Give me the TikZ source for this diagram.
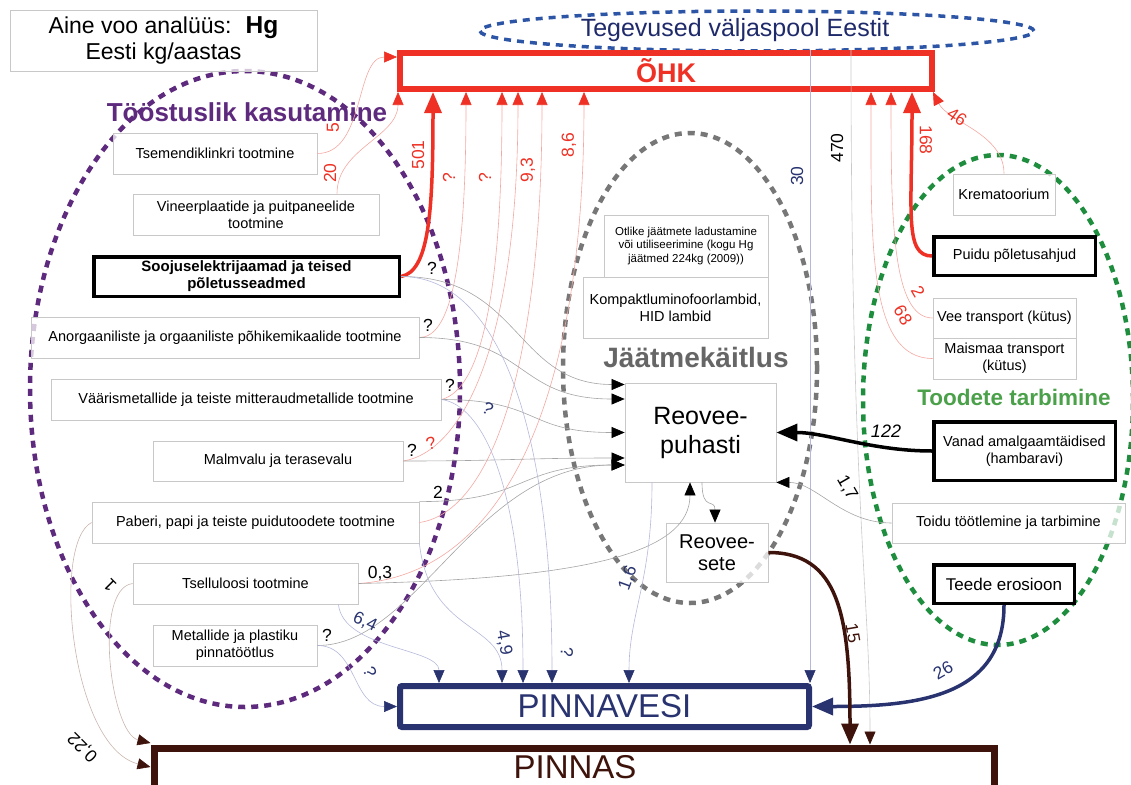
\documentclass[tikz,border=0pt]{standalone}
\usepackage{fontspec}
\setmainfont{Liberation Sans}
\usetikzlibrary{arrows.meta}
\definecolor{ohkred}{HTML}{EE3124}
\definecolor{redthin}{HTML}{F5A8A2}
\definecolor{pvblue}{HTML}{28336F}
\definecolor{bluethin}{HTML}{B4B9DB}
\definecolor{soilbrown}{HTML}{3E130B}
\definecolor{brownthin}{HTML}{C9B6AF}
\definecolor{grayline}{HTML}{A5A5A5}
\definecolor{boxgray}{HTML}{C8C8C8}
\definecolor{indpurple}{HTML}{5E2A7E}
\definecolor{consgreen}{HTML}{1E8E3E}
\definecolor{consgreentext}{HTML}{4BA04A}
\definecolor{wastegray}{HTML}{777777}
\definecolor{wastetext}{HTML}{666666}
\definecolor{abroadblue}{HTML}{2D55A6}
\definecolor{abroadtext}{HTML}{1F2A6B}
\begin{document}
\begin{tikzpicture}[x=1pt,y=-1pt,
  box/.style={draw=boxgray, line width=0.8pt, fill=white, fill opacity=0.75, text opacity=1,
    inner sep=0pt, align=center, font=\fontsize{14.5}{17}\selectfont},
  strongbox/.style={box, draw=black, line width=3.5pt},
  wh/.style 2 args={minimum width=#1pt, minimum height=#2pt},
  ring/.style={line width=4.5pt, dash pattern=on 7pt off 6pt},
  lab/.style={inner sep=0pt, font=\fontsize{17.5}{17.5}\selectfont},
  redflow/.style={draw=redthin, line width=0.6pt, -{Triangle[length=13pt,width=11pt,color=ohkred]}},
  grayflow/.style={draw=grayline, line width=0.6pt, -{Triangle[length=13pt,width=11pt,color=black]}},
  blueflow/.style={draw=bluethin, line width=0.6pt, -{Triangle[length=13pt,width=11pt,color=pvblue]}},
  brownflow/.style={draw=brownthin, line width=0.6pt, -{Triangle[length=13pt,width=11pt,color=soilbrown]}},
  bigflow/.style={line width=3.5pt, -{Triangle[length=21pt,width=17pt]}},
]
\useasboundingbox (0,0) rectangle (1131,784);

% ---- sector outlines ----
\draw[ring, indpurple] (245,389) ellipse [x radius=215pt, y radius=318pt];
\draw[ring, wastegray] (690,368) ellipse [x radius=127pt, y radius=235pt];
\draw[ring, consgreen] (998,400) ellipse [x radius=135pt, y radius=245pt];
\draw[line width=3.5pt, dash pattern=on 7pt off 6pt, abroadblue] (757,31) ellipse [x radius=277pt, y radius=20pt];

\node[inner sep=0, text=indpurple, font=\fontsize{26}{28}\selectfont\bfseries] (indtitle) at (247,112) {Tööstuslik kasutamine};
\node[inner sep=0, text=wastetext, font=\fontsize{28}{30}\selectfont\bfseries] (wastetitle) at (696,357) {Jäätmekäitlus};
\node[inner sep=0, text=consgreentext, font=\fontsize{22.5}{24}\selectfont\bfseries] (constitle) at (1014,397) {Toodete tarbimine};
\node[inner sep=0, text=abroadtext, font=\fontsize{25}{27}\selectfont] (abroad) at (735,30) {Tegevused väljaspool Eestit};

% ---- title ----
\node[box, wh={307}{61}, font=\fontsize{23}{26}\selectfont] (title) at (163.5,40.5)
  {Aine voo analüüs:\hspace{14pt}\textbf{\fontsize{24.5}{26}\selectfont Hg}\\Eesti kg/aastas};

% ---- industrial sources ----
\node[box, wh={204}{41}] (tsem) at (215,153.5) {Tsemendiklinkri tootmine};
\node[box, wh={246}{41}] (vin) at (256,214.5) {Vineerplaatide ja puitpaneelide\\tootmine};
\node[strongbox, wh={305.5}{39.5}, font=\fontsize{15}{17}\selectfont\bfseries] (sooj) at (246.5,276.5) {Soojuselektrijaamad ja teised\\põletusseadmed};
\node[box, wh={388}{41}] (anorg) at (225,337.5) {Anorgaaniliste ja orgaaniliste põhikemikaalide tootmine};
\node[box, wh={390}{41}] (vaar) at (246,399.5) {Väärismetallide ja teiste mitteraudmetallide tootmine};
\node[box, wh={250}{40}] (malm) at (278,461) {Malmvalu ja terasevalu};
\node[box, wh={327}{41}] (paber) at (255.5,522.5) {Paberi, papi ja teiste puidutoodete tootmine};
\node[box, wh={225}{41}] (tsell) at (245.5,583.5) {Tselluloosi tootmine};
\node[box, wh={164}{41}] (metal) at (235,645.5) {Metallide ja plastiku\\pinnatöötlus};

% ---- waste handling ----
\node[box, wh={164}{62}, font=\fontsize{11.5}{13.5}\selectfont] (otlike) at (686,246) {Otlike jäätmete ladustamine\\või utiliseerimine (kogu Hg\\jäätmed 224kg (2009))};
\node[box, wh={185}{61}] (lamp) at (675.5,307.5) {Kompaktluminofoorlambid,\\HID lambid};
\node[box, wh={151}{99}, font=\fontsize{25}{29}\selectfont] (rp) at (700.5,432.5) {Reovee-\\puhasti};
\node[box, wh={102}{59}, font=\fontsize{20}{22.5}\selectfont] (rs) at (717,552.5) {Reovee-\\sete};

% ---- consumption ----
\node[box, wh={102}{41}] (krem) at (1004,194.5) {Krematoorium};
\node[strongbox, wh={161.5}{38.5}] (puid) at (1014.5,256) {Puidu põletusahjud};
\node[box, wh={143}{40}] (vee) at (1004.5,318) {Vee transport (kütus)};
\node[box, wh={143}{41}] (maism) at (1004.5,358.5) {Maismaa transport\\(kütus)};
\node[strongbox, wh={181.5}{58.5}] (amalg) at (1024.5,451) {Vanad amalgaamtäidised\\(hambaravi)};
\node[box, wh={233}{40}] (toidu) at (1008.5,523) {Toidu töötlemine ja tarbimine};
\node[strongbox, wh={140.5}{38.5}, font=\fontsize{17}{20}\selectfont] (teede) at (1004,584) {Teede erosioon};

% ---- receiving compartments ----
\node[draw=ohkred, line width=6pt, wh={532}{36}, outer sep=3pt, inner sep=0pt, text=ohkred,
  font=\fontsize{27}{30}\selectfont\bfseries] (ohk) at (666,71) {ÕHK};
\node[draw=pvblue, line width=6pt, rounded corners=2pt, wh={409}{41}, outer sep=3pt, inner sep=0pt,
  fill=white, text=pvblue, font=\fontsize{33}{36}\selectfont] (pv) at (604.5,706.5) {PINNAVESI};
\node[draw=soilbrown, line width=7pt, wh={840}{72}, outer sep=3.5pt, inner sep=0pt] (pinnas) at (574,784) {};
\node[inner sep=0pt, text=soilbrown, font=\fontsize{33}{36}\selectfont] (pinnaslbl) at (575,767.5) {PINNAS};

\coordinate (out30) at (810,50);
\coordinate (out470) at (851,50);

% ---- emissions to air ----
\draw[redflow] (tsem.east) .. controls +(48,0) and +(-42,0) .. ([yshift=14pt]ohk.west);
\draw[redflow] ([xshift=81pt]vin.north) .. controls +(0,-45) and +(0,45) .. ([xshift=1pt]ohk.south west);
\draw[bigflow, draw=ohkred] (sooj.east) .. controls +(28,-5) and +(0,120) .. ([xshift=36pt]ohk.south west);
\draw[redflow] (anorg.east) .. controls +(30,0) and +(0,180) .. ([xshift=69pt]ohk.south west);
\draw[redflow] (vaar.east) .. controls +(40,-10) and +(0,200) .. ([xshift=105pt]ohk.south west);
\draw[redflow] (malm.east) .. controls +(60,-10) and +(0,250) .. ([xshift=121pt]ohk.south west);
\draw[redflow] (paber.east) .. controls +(70,-10) and +(0,280) .. ([xshift=145pt]ohk.south west);
\draw[redflow] (tsell.east) .. controls +(150,-10) and +(0,300) .. ([xshift=187pt]ohk.south west);
\draw[redflow] (krem.north) .. controls +(0,-40) and +(15,30) .. ([xshift=536pt]ohk.south west);
\draw[bigflow, draw=ohkred] (puid.west) .. controls +(-28,0) and +(0,120) .. ([xshift=515pt]ohk.south west);
\draw[redflow] (vee.west) .. controls +(-40,0) and +(0,130) .. ([xshift=494pt]ohk.south west);
\draw[redflow] (maism.west) .. controls +(-65,0) and +(0,150) .. ([xshift=474pt]ohk.south west);

% ---- flows from abroad ----
\draw[blueflow] (out30) -- ([xshift=413pt]pv.north west);
\draw[brownflow, draw=grayline!60] (out470) .. controls +(0,450) and +(0,-150) .. ([xshift=719.5pt]pinnas.north west);

% ---- to the wastewater plant ----
\draw[grayflow] (sooj.east) .. controls +(120,0) and +(-110,0) .. ([yshift=48pt]rp.west);
\draw[grayflow] (anorg.east) .. controls +(110,0) and +(-110,0) .. ([yshift=33.5pt]rp.west);
\draw[grayflow] (vaar.east) .. controls +(100,0) and +(-100,0) .. (rp.west);
\draw[grayflow] (malm.east) .. controls +(100,0) and +(-100,0) .. ([yshift=-25.5pt]rp.west);
\draw[grayflow] (paber.north east) .. controls +(110,0) and +(-110,0) .. ([yshift=-32.5pt]rp.west);
\draw[grayflow] (metal.east) .. controls +(100,0) and +(-150,0) .. ([yshift=-32.5pt]rp.west);
\draw[grayflow] (tsell.east) .. controls +(230,-5) and +(0,70) .. ([xshift=-10.5pt]rp.south);
\draw[grayflow] ([xshift=1.5pt]rp.south) .. controls +(0,30) and +(0,-25) .. ([xshift=-2pt]rs.north);
\draw[bigflow, draw=black] (amalg.west) .. controls +(-60,0) and +(50,0) .. (rp.east);
\draw[grayflow] (toidu.west) .. controls +(-50,0) and +(40,0) .. (rp.south east);

% ---- to surface water ----
\draw[blueflow] (sooj.east) .. controls +(100,0) and +(0,-250) .. ([xshift=155pt]pv.north west);
\draw[blueflow] (vaar.east) .. controls +(40,5) and +(0,-200) .. ([xshift=126pt]pv.north west);
\draw[blueflow] (paber.south east) .. controls +(10,90) and +(0,-60) .. ([xshift=105pt]pv.north west);
\draw[blueflow] ([xshift=-20pt]tsell.south east) .. controls +(5,45) and +(0,-35) .. ([xshift=42pt]pv.north west);
\draw[blueflow] (metal.east) .. controls +(40,0) and +(-45,0) .. (pv.west);
\draw[blueflow] ([xshift=-48.5pt]rp.south) .. controls +(0,100) and +(0,-70) .. ([xshift=232pt]pv.north west);
\draw[bigflow, draw=pvblue] (teede.south) .. controls +(0,90) and +(110,0) .. (pv.east);

% ---- to soil ----
\draw[bigflow, draw=soilbrown] (rs.east) .. controls +(70,0) and +(0,-130) .. ([xshift=699.5pt]pinnas.north west);
\draw[brownflow] (tsell.west) .. controls +(-40,5) and +(-40,-10) .. ([yshift=1.5pt]pinnas.north west);
\draw[brownflow] (paber.west) .. controls +(-40,20) and +(-80,-20) .. ([yshift=-22.5pt]pinnas.north west);

% ---- flow values ----
\node[lab, text=ohkred, rotate=90] (v5) at (333,128) {5};
\node[lab, text=ohkred, rotate=90] (v20) at (330,173) {20};
\node[lab, text=ohkred, rotate=90] (v501) at (418,155) {501};
\node[lab, text=ohkred, rotate=90] (vqa) at (449,178) {?};
\node[lab, text=ohkred, rotate=90] (vqb) at (485,178) {?};
\node[lab, text=ohkred, rotate=90] (v93) at (528,170) {9,3};
\node[lab, text=ohkred, rotate=90] (v86) at (569,145) {8,6};
\node[lab, rotate=90] (v470) at (837,148) {470};
\node[lab, text=pvblue, rotate=90] (v30) at (797,176) {30};
\node[lab, text=ohkred, rotate=-90] (v168) at (926,140) {168};
\node[lab, text=ohkred, rotate=-35] (v46) at (957,117) {46};
\node[lab, text=ohkred, rotate=-60] (v2r) at (918,292) {2};
\node[lab, text=ohkred, rotate=-60] (v68) at (903,315) {68};

\node[lab] (vqs) at (432,268) {?};
\node[lab] (vqan) at (428,325) {?};
\node[lab] (vqv) at (450,385) {?};
\node[lab] (vqm) at (412,450) {?};
\node[lab, text=ohkred, rotate=15] (vqmr) at (431,443) {?};
\node[lab] (v2) at (438,492) {2};
\node[lab] (v03) at (380,574) {0,3};
\node[lab] (vqme) at (327,635) {?};

\node[lab, text=pvblue, rotate=-30] (vqvb) at (488,409) {?};
\node[lab, text=pvblue, rotate=-25] (v64) at (365,622) {6,4};
\node[lab, text=pvblue, rotate=-70] (vqmb) at (370,672) {?};
\node[lab, text=pvblue, rotate=-80] (v49) at (504,643) {4,9};
\node[lab, text=pvblue, rotate=-90] (vqsb) at (567,652) {?};
\node[lab, text=pvblue, rotate=70] (v16) at (628,578) {1,6};
\node[lab, text=pvblue, rotate=30] (v26) at (943,670) {26};

\node[lab, text=soilbrown, rotate=-80] (v15) at (853,633) {15};
\node[lab, font=\fontsize{18}{18}\selectfont\itshape] (v122) at (886,431) {122};
\node[lab, rotate=-60] (v17) at (847,488) {1,7};
\node[lab, rotate=135] (v1) at (110,585) {1};
\node[lab, rotate=135] (v022) at (83,747) {0,22};
\end{tikzpicture}
\end{document}
